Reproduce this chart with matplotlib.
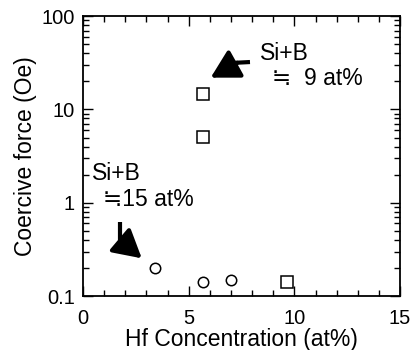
import numpy as np
import matplotlib
matplotlib.use("Agg")
import matplotlib.pyplot as plt
from matplotlib.ticker import MultipleLocator, LogLocator, NullFormatter, FixedFormatter, FixedLocator

#=== Dados ===
sq_hf = [5.7, 5.7, 9.65]          # Si+B ~ 9 at%
sq_hc = [14.5, 5.1, 0.14]
ci_hf = [3.4, 5.7, 7.0]           # Si+B ~ 15 at%
ci_hc = [0.20, 0.142, 0.149]

x_ticks = [0, 5, 10, 15]
y_ticks = [0.1, 1, 10, 100]
y_labels = ["0.1", "1", "10", "100"]

plt.rcParams['font.family'] = ['Liberation Sans', 'Noto Sans CJK JP', 'DejaVu Sans']
plt.rcParams['font.size'] = 14

fig = plt.figure(figsize=(4.12, 3.5), dpi=100)
ax = fig.add_axes([0.2015, 0.154, 0.7695, 0.80])

ax.plot(sq_hf, sq_hc, 's', ms=8, mfc='white', mec='black', mew=1.1, ls='none')
ax.plot(ci_hf, ci_hc, 'o', ms=7.5, mfc='white', mec='black', mew=1.1, ls='none')

ax.set_yscale('log')
ax.set_xlim(0, 15)
ax.set_ylim(0.1, 100)
ax.xaxis.set_major_locator(FixedLocator(x_ticks))
ax.xaxis.set_minor_locator(MultipleLocator(1))
ax.yaxis.set_major_locator(FixedLocator(y_ticks))
ax.yaxis.set_major_formatter(FixedFormatter(y_labels))
ax.yaxis.set_minor_locator(LogLocator(base=10, subs=np.arange(2, 10)))
ax.yaxis.set_minor_formatter(NullFormatter())

ax.tick_params(which='both', direction='in', top=True, right=True, width=1.0)
ax.tick_params(which='major', length=7, labelsize=14.5)
ax.tick_params(axis='x', which='major', pad=9)
ax.tick_params(axis='y', which='major', pad=6)
ax.tick_params(which='minor', length=4)
for s in ax.spines.values():
    s.set_linewidth(1.3)

ax.set_xlabel('Hf Concentration (at%)', fontsize=16.5, labelpad=0)
ax.set_ylabel('Coercive force (Oe)', fontsize=16.5, labelpad=3)

# anotacoes
ax.text(8.38, 39.8, 'Si+B', fontsize=16.5, va='center', ha='left')
ax.text(8.93, 21.3, '≒  9 at%', fontsize=16.5, va='center', ha='left')
ax.text(0.41, 2.07, 'Si+B', fontsize=16.5, va='center', ha='left')
ax.text(0.96, 1.096, '≒15 at%', fontsize=16.5, va='center', ha='left')

# seta superior (haste horizontal + ponta inclinada)
ax.plot([7.9, 7.2], [32.2, 31.6], color='black', lw=3, solid_capstyle='butt')
ax.annotate('', xy=(6.04, 21.9), xytext=(7.3, 31.6),
            arrowprops=dict(arrowstyle='-|>,head_length=1.7,head_width=0.95',
                            color='black', lw=3, mutation_scale=10,
                            shrinkA=0, shrinkB=0))

# seta inferior (haste vertical + ponta inclinada)
ax.plot([1.75, 1.75], [0.621, 0.40], color='black', lw=3, solid_capstyle='butt')
ax.annotate('', xy=(2.78, 0.254), xytext=(1.75, 0.40),
            arrowprops=dict(arrowstyle='-|>,head_length=1.7,head_width=0.95',
                            color='black', lw=3, mutation_scale=10,
                            shrinkA=0, shrinkB=0))

fig.savefig('out.png', dpi=100)
